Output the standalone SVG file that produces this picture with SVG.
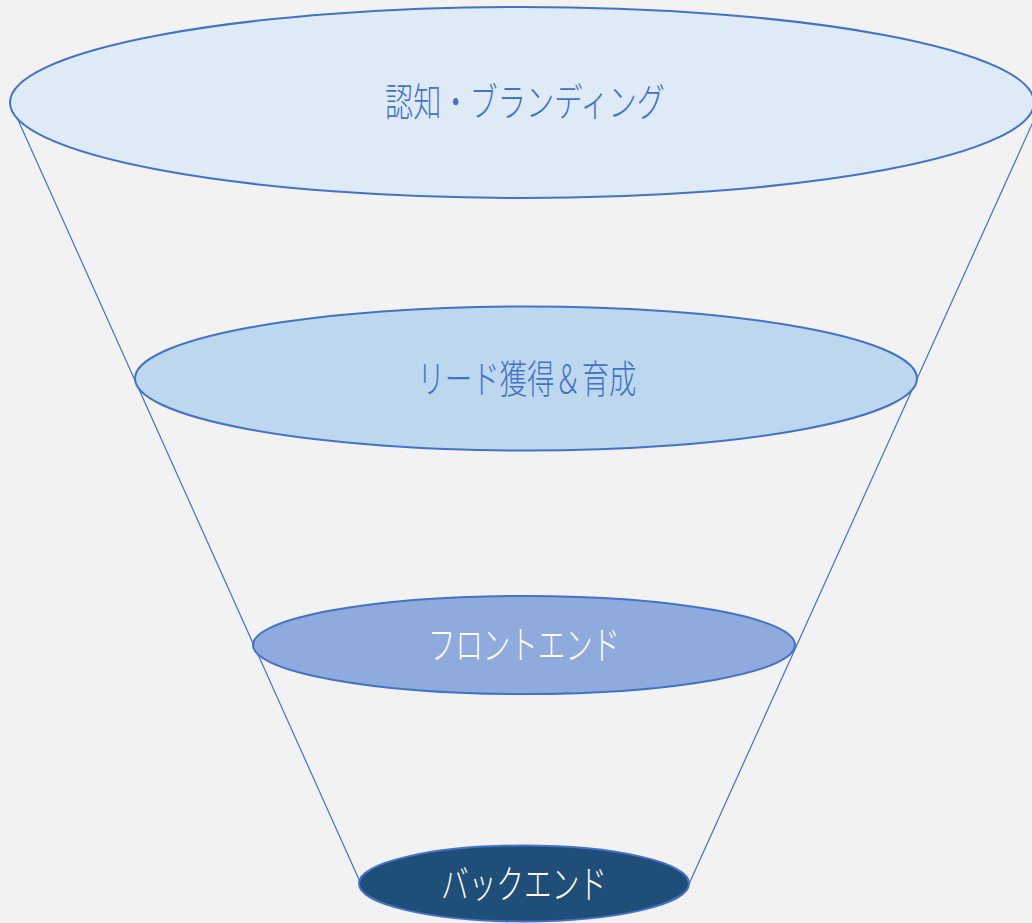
<svg xmlns="http://www.w3.org/2000/svg" width="1032" height="923" viewBox="0 0 1032 923">
<style>
.ln{stroke:#4472C4;stroke-width:1.2;fill:none}
.el{stroke:#4472C4;stroke-width:2}
.t{font-family:"Noto Sans CJK JP","Noto Sans",sans-serif;font-size:39px;font-weight:300;text-anchor:middle}
</style>
<rect width="1032" height="923" fill="#F2F2F2"/>
<g id="connectors">
<line class="ln" x1="10" y1="102" x2="361" y2="884"/>
<line class="ln" x1="1042" y1="102" x2="689" y2="884"/>
</g>
<g id="n1">
<ellipse class="el" cx="522" cy="102.5" rx="512" ry="95.5" fill="#DEEAF6"/>
<text class="t" x="525" y="116" fill="#4472C4" textLength="280" lengthAdjust="spacingAndGlyphs">認知・ブランディング</text>
</g>
<g id="n2">
<ellipse class="el" cx="526" cy="378.5" rx="391" ry="72" fill="#BDD7EE"/>
<text class="t" x="527" y="393" fill="#4472C4" textLength="219" lengthAdjust="spacingAndGlyphs">リード獲得＆育成</text>
</g>
<g id="n3">
<ellipse class="el" cx="524" cy="645" rx="271" ry="49" fill="#8FAADC"/>
<text class="t" x="524" y="659" fill="#FFFFFF" textLength="192" lengthAdjust="spacingAndGlyphs">フロントエンド</text>
</g>
<g id="n4">
<ellipse class="el" cx="524" cy="883.5" rx="165" ry="38" fill="#1F4E79"/>
<text class="t" x="524" y="898" fill="#FFFFFF" textLength="166" lengthAdjust="spacingAndGlyphs">バックエンド</text>
</g>
</svg>
